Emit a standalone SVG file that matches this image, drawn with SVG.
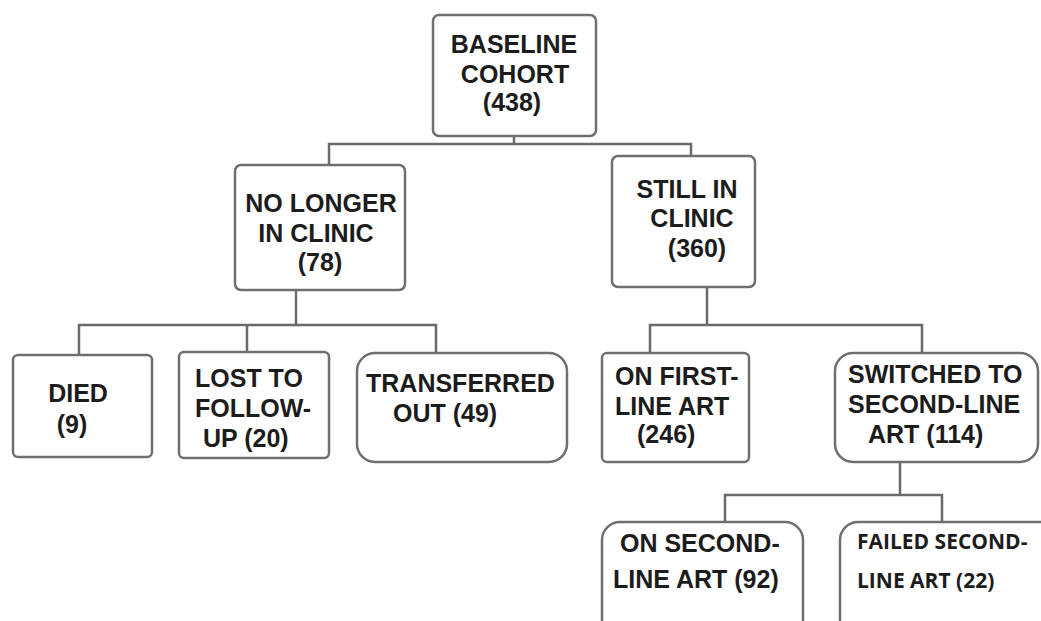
<svg xmlns="http://www.w3.org/2000/svg" width="1041" height="621" viewBox="0 0 1041 621">
<style>
.box{fill:#ffffff;stroke:#6f6f6f;stroke-width:2.5}
.t{font-family:"Liberation Sans",Arial,sans-serif;font-weight:bold;font-size:25px;fill:#1c1c1c}
.c{text-anchor:middle}
.f{font-family:"Open Sans","Liberation Sans",sans-serif;font-weight:bold;font-size:21px;fill:#1c1c1c}
.con{fill:none;stroke:#6a6a6a;stroke-width:2.5}
</style>
<rect width="1041" height="621" fill="#ffffff"/>
<g id="connectors">
<path class="con" d="M514,136 V144"/>
<path class="con" d="M329,165 V144 H691 V156"/>
<path class="con" d="M296,290 V325"/>
<path class="con" d="M79,355 V325 H436 V353"/>
<path class="con" d="M247,325 V352"/>
<path class="con" d="M707,287 V325"/>
<path class="con" d="M650,353 V325 H922 V353"/>
<path class="con" d="M900,462 V495"/>
<path class="con" d="M725,522 V495 H942 V522"/>
</g>
<g id="baseline">
<rect class="box" x="433" y="15" width="163" height="121" rx="6"/>
<text class="t c" x="514" y="53">BASELINE</text>
<text class="t c" x="515" y="83">COHORT</text>
<text class="t c" x="512" y="111">(438)</text>
</g>
<g id="nolonger">
<rect class="box" x="235" y="165" width="170" height="125" rx="6"/>
<text class="t c" x="321" y="212">NO LONGER</text>
<text class="t c" x="316" y="242">IN CLINIC</text>
<text class="t c" x="320" y="271">(78)</text>
</g>
<g id="still">
<rect class="box" x="612" y="156" width="143" height="131" rx="6"/>
<text class="t c" x="687" y="198">STILL IN</text>
<text class="t c" x="692" y="227">CLINIC</text>
<text class="t c" x="697" y="257">(360)</text>
</g>
<g id="died">
<rect class="box" x="13" y="355" width="139" height="102" rx="5"/>
<text class="t c" x="78" y="402">DIED</text>
<text class="t c" x="72" y="433">(9)</text>
</g>
<g id="lost">
<rect class="box" x="179" y="352" width="150" height="106" rx="5"/>
<text class="t" x="195" y="387">LOST TO</text>
<text class="t" x="195" y="417">FOLLOW-</text>
<text class="t" x="203" y="447">UP (20)</text>
</g>
<g id="transferred">
<rect class="box" x="357" y="353" width="210" height="109" rx="18"/>
<text class="t" x="366" y="392">TRANSFERRED</text>
<text class="t" x="393" y="422">OUT (49)</text>
</g>
<g id="firstline">
<rect class="box" x="602" y="353" width="147" height="109" rx="5"/>
<text class="t" x="615" y="385">ON FIRST-</text>
<text class="t" x="615" y="415">LINE ART</text>
<text class="t" x="637" y="443">(246)</text>
</g>
<g id="switched">
<rect class="box" x="835" y="353" width="203" height="109" rx="18"/>
<text class="t" x="848" y="383">SWITCHED TO</text>
<text class="t" x="848" y="413">SECOND-LINE</text>
<text class="t" x="868" y="443">ART (114)</text>
</g>
<g id="onsecond">
<rect class="box" x="602" y="522" width="201" height="125" rx="18"/>
<text class="t" x="620" y="552">ON SECOND-</text>
<text class="t" x="613" y="588">LINE ART (92)</text>
</g>
<g id="failed">
<rect class="box" x="840" y="522" width="220" height="125" rx="18"/>
<text class="f" x="857" y="549">FAILED SECOND-</text>
<text class="f" x="857" y="588">LINE ART (22)</text>
</g>
</svg>
